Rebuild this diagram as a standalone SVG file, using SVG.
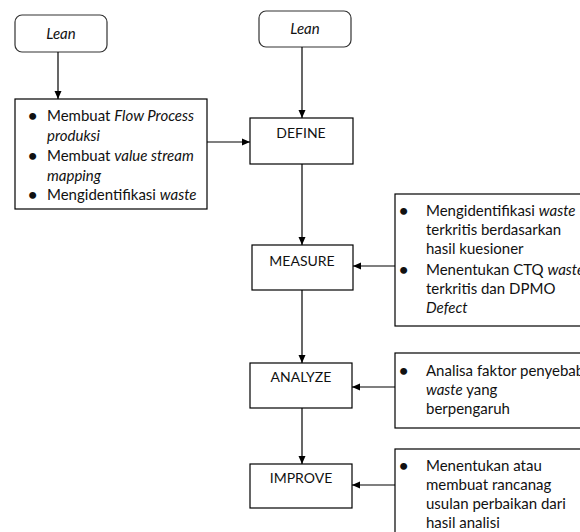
<svg xmlns="http://www.w3.org/2000/svg" width="580" height="532" viewBox="0 0 580 532">
<defs>
<marker id="ah" markerWidth="8" markerHeight="8" refX="8" refY="4" orient="auto" markerUnits="userSpaceOnUse">
<path d="M0,0.5 L8,4 L0,7.5 Z" fill="#000"/>
</marker>
<style>
.box{fill:#fff;stroke:#000;stroke-width:1.2}
.rbox{fill:#fff;stroke:#333;stroke-width:1.2}
text{font-family:Lato,"Liberation Sans",sans-serif;font-size:15px;fill:#111}
.c{text-anchor:middle}
.s{font-size:14px}
.i{font-style:italic}
.b{font-size:16px;font-weight:bold}
.ln{stroke:#000;stroke-width:1.2;fill:none;marker-end:url(#ah)}
</style>
</defs>
<rect width="580" height="532" fill="#fff"/>
<g id="lean-left">
<rect class="rbox" x="15" y="15" width="92" height="37" rx="7"/>
<text class="c i" x="61" y="39">Lean</text>
</g>
<g id="lean-right">
<rect class="rbox" x="259" y="11" width="92" height="36" rx="7"/>
<text class="c i" x="305" y="34">Lean</text>
</g>
<g id="left-list">
<rect class="box" x="15" y="99" width="192" height="110"/>
<text class="b" x="28" y="121">•</text><text x="47" y="121">Membuat <tspan class="i">Flow Process</tspan></text>
<text x="47" y="141" class="i">produksi</text>
<text class="b" x="28" y="161">•</text><text x="47" y="161">Membuat <tspan class="i">value stream</tspan></text>
<text x="47" y="181" class="i">mapping</text>
<text class="b" x="28" y="200">•</text><text x="47" y="200">Mengidentifikasi <tspan class="i">waste</tspan></text>
</g>
<g id="define">
<rect class="box" x="250" y="118" width="103" height="46"/>
<text class="c s" x="301" y="138">DEFINE</text>
</g>
<g id="measure">
<rect class="box" x="252" y="245" width="101" height="45"/>
<text class="c s" x="302" y="266">MEASURE</text>
</g>
<g id="analyze">
<rect class="box" x="250" y="363" width="102" height="45"/>
<text class="c s" x="301" y="382">ANALYZE</text>
</g>
<g id="improve">
<rect class="box" x="250" y="464" width="102" height="44"/>
<text class="c s" x="301" y="483">IMPROVE</text>
</g>
<g id="measure-notes">
<rect class="box" x="395" y="194" width="200" height="132"/>
<text class="b" x="399" y="216">•</text><text x="426" y="216">Mengidentifikasi <tspan class="i">waste</tspan></text>
<text x="426" y="235">terkritis berdasarkan</text>
<text x="426" y="254">hasil kuesioner</text>
<text class="b" x="399" y="275">•</text><text x="426" y="275">Menentukan CTQ <tspan class="i">waste</tspan></text>
<text x="426" y="294">terkritis dan DPMO</text>
<text x="426" y="313" class="i">Defect</text>
</g>
<g id="analyze-notes">
<rect class="box" x="395" y="353" width="200" height="75"/>
<text class="b" x="399" y="376">•</text><text x="426" y="376">Analisa faktor penyebab</text>
<text x="426" y="395"><tspan class="i">waste</tspan> yang</text>
<text x="426" y="414">berpengaruh</text>
</g>
<g id="improve-notes">
<rect class="box" x="395" y="449" width="200" height="100"/>
<text class="b" x="399" y="471">•</text><text x="426" y="471">Menentukan atau</text>
<text x="426" y="490">membuat rancanag</text>
<text x="426" y="509">usulan perbaikan dari</text>
<text x="426" y="528">hasil analisi</text>
</g>
<g id="connectors">
<line class="ln" x1="58" y1="52" x2="58" y2="99"/>
<line class="ln" x1="302" y1="47" x2="302" y2="118"/>
<line class="ln" x1="207" y1="142" x2="250" y2="142"/>
<line class="ln" x1="302" y1="164" x2="302" y2="245"/>
<line class="ln" x1="395" y1="266" x2="353" y2="266"/>
<line class="ln" x1="302" y1="290" x2="302" y2="363"/>
<line class="ln" x1="395" y1="387" x2="352" y2="387"/>
<line class="ln" x1="302" y1="408" x2="302" y2="464"/>
<line class="ln" x1="395" y1="485" x2="352" y2="485"/>
</g>
</svg>
